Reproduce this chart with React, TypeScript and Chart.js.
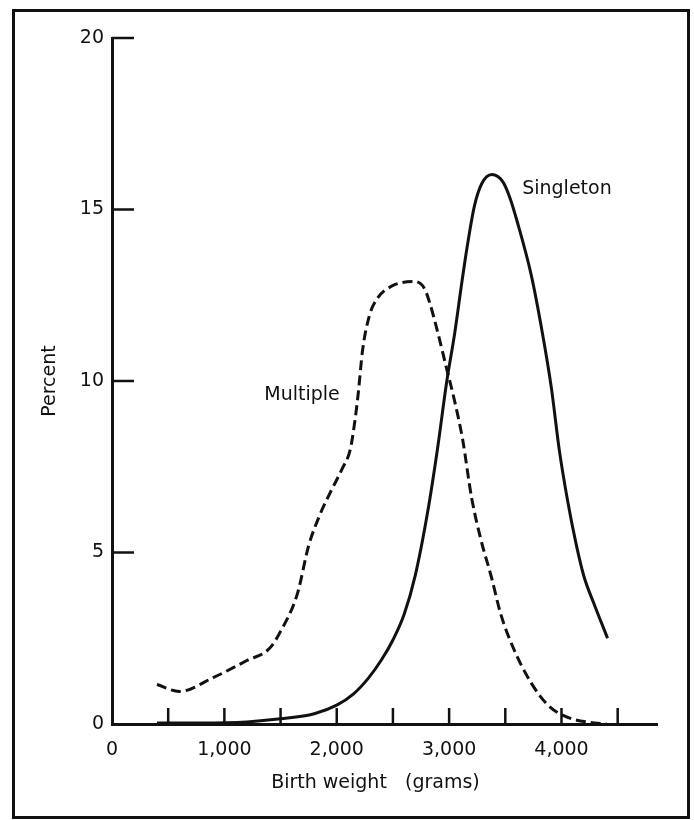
import React, { useEffect, useRef } from "react";
import { Chart, registerables } from "chart.js";

Chart.register(...registerables);

// ---- Data ----
const multipleWeights = [400, 600, 900, 1200, 1400, 1500, 1650, 1750, 1850, 1950, 2050, 2120, 2160, 2190, 2230, 2290, 2360, 2480, 2690, 2780, 2830, 2900, 2975, 3050, 3120, 3200, 3285, 3375, 3460, 3580, 3730, 3880, 4050, 4290, 4400];
const multiplePercent = [1.15, 0.95, 1.35, 1.85, 2.2, 2.7, 3.8, 5.2, 6.1, 6.8, 7.45, 8.0, 8.8, 9.6, 10.9, 11.9, 12.4, 12.75, 12.9, 12.7, 12.25, 11.4, 10.4, 9.4, 8.3, 6.6, 5.35, 4.3, 3.2, 2.15, 1.2, 0.55, 0.2, 0.03, 0.0];

const singletonWeights = [400, 800, 1200, 1500, 1800, 2000, 2150, 2280, 2400, 2500, 2600, 2700, 2810, 2900, 2975, 3050, 3110, 3160, 3225, 3290, 3380, 3480, 3540, 3610, 3730, 3830, 3910, 3980, 4055, 4130, 4200, 4290, 4410];
const singletonPercent = [0.03, 0.03, 0.06, 0.15, 0.3, 0.55, 0.88, 1.33, 1.88, 2.45, 3.2, 4.35, 6.2, 8.1, 9.9, 11.4, 12.8, 13.9, 15.1, 15.75, 16.02, 15.8, 15.35, 14.6, 13.1, 11.4, 9.8, 8.0, 6.5, 5.25, 4.3, 3.5, 2.5];

const xTickLabels = [0, 1000, 2000, 3000, 4000];
const xTickMarks = [500, 1000, 1500, 2000, 2500, 3000, 3500, 4000, 4500];
const yTickLabels = [0, 5, 10, 15, 20];
const yTickMarks = [5, 10, 15, 20];

const xMin = 0;
const xMax = 4850;
const yMin = 0;
const yMax = 20;

const seriesLabels = ["Singleton", "Multiple"];
const singletonLabelAt = [3650, 15.6];
const multipleLabelAt = [1355, 9.6];

const xTitle = "Birth weight   (grams)   ";
const yTitle = "Percent";

const FONT = "'DejaVu Sans', sans-serif";
const INK = "#111111";

const decorPlugin = {
  id: "decor",
  afterDraw(chart: any) {
    const { ctx } = chart;
    const xs = chart.scales.x;
    const ys = chart.scales.y;
    const x0 = xs.getPixelForValue(0);
    const y0 = ys.getPixelForValue(0);
    ctx.save();
    ctx.strokeStyle = INK;
    ctx.lineCap = "butt";
    // inward tick marks on x axis
    ctx.lineWidth = 2.5;
    xTickMarks.forEach((v) => {
      const px = xs.getPixelForValue(v);
      ctx.beginPath();
      ctx.moveTo(px, y0);
      ctx.lineTo(px, y0 - 16);
      ctx.stroke();
    });
    // inward tick marks on y axis
    yTickMarks.forEach((v) => {
      const py = ys.getPixelForValue(v);
      ctx.beginPath();
      ctx.moveTo(x0, py);
      ctx.lineTo(x0 + 22, py);
      ctx.stroke();
    });
    // series labels
    ctx.fillStyle = INK;
    ctx.font = `19px ${FONT}`;
    ctx.textAlign = "left";
    ctx.textBaseline = "middle";
    ctx.fillText(seriesLabels[0], xs.getPixelForValue(singletonLabelAt[0]), ys.getPixelForValue(singletonLabelAt[1]));
    ctx.fillText(seriesLabels[1], xs.getPixelForValue(multipleLabelAt[0]), ys.getPixelForValue(multipleLabelAt[1]));
    // outer frame
    ctx.lineWidth = 3;
    ctx.strokeRect(13.5, 10.5, 675, 807);
    ctx.restore();
  },
};

export default function App() {
  const ref = useRef<HTMLCanvasElement | null>(null);

  useEffect(() => {
    if (!ref.current) return;
    const chart = new Chart(ref.current, {
      type: "line",
      data: {
        datasets: [
          {
            label: seriesLabels[0],
            data: singletonWeights.map((w, i) => ({ x: w, y: singletonPercent[i] })),
            borderColor: INK,
            borderWidth: 3,
            pointRadius: 0,
            cubicInterpolationMode: "monotone",
            fill: false,
          },
          {
            label: seriesLabels[1],
            data: multipleWeights.map((w, i) => ({ x: w, y: multiplePercent[i] })),
            borderColor: INK,
            borderWidth: 3,
            borderDash: [10, 5],
            pointRadius: 0,
            cubicInterpolationMode: "monotone",
            fill: false,
          },
        ],
      },
      options: {
        animation: false,
        responsive: false,
        devicePixelRatio: 1,
        layout: { padding: { top: 38, right: 37, bottom: 0, left: 0 } },
        plugins: { legend: { display: false }, tooltip: { enabled: false } },
        scales: {
          x: {
            type: "linear",
            min: xMin,
            max: xMax,
            afterBuildTicks: (axis: any) => {
              axis.ticks = xTickLabels.map((v) => ({ value: v }));
            },
            afterFit: (s: any) => {
              s.height = 96;
            },
            grid: { display: true, drawOnChartArea: false, drawTicks: false, color: "rgba(0,0,0,0)" },
            border: { display: true, color: INK, width: 3 },
            ticks: {
              padding: 15,
              color: INK,
              font: { family: FONT, size: 19 },
              maxRotation: 0,
              autoSkip: false,
              callback: (v: any) => Number(v).toLocaleString("en-US"),
            },
            title: {
              display: true,
              text: xTitle,
              color: INK,
              font: { family: FONT, size: 19 },
              padding: { top: 4, bottom: 26 },
            },
          },
          y: {
            type: "linear",
            min: yMin,
            max: yMax,
            afterBuildTicks: (axis: any) => {
              axis.ticks = yTickLabels.map((v) => ({ value: v }));
            },
            afterFit: (s: any) => {
              s.width = 112;
            },
            grid: { display: true, drawOnChartArea: false, drawTicks: false, color: "rgba(0,0,0,0)" },
            border: { display: true, color: INK, width: 3 },
            ticks: {
              padding: 8,
              color: INK,
              font: { family: FONT, size: 19 },
              autoSkip: false,
            },
            title: {
              display: true,
              text: yTitle,
              color: INK,
              font: { family: FONT, size: 19 },
              padding: { top: 39, bottom: 0 },
            },
          },
        },
      },
      plugins: [decorPlugin],
    });
    return () => chart.destroy();
  }, []);

  return (
    <div style={{ position: "absolute", left: 0, top: 0, width: 694, height: 820, background: "#fff" }}>
      <canvas ref={ref} width={694} height={820} style={{ display: "block", width: 694, height: 820 }} />
    </div>
  );
}
